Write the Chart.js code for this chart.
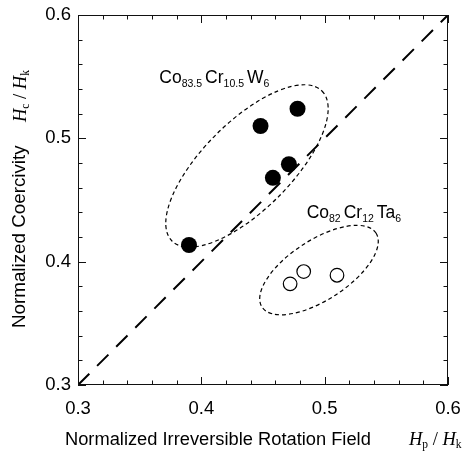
<!DOCTYPE html>
<html>
<head>
<meta charset="utf-8">
<script src="https://cdn.jsdelivr.net/npm/chart.js@4"></script>
<style>
  html, body { margin: 0; padding: 0; background: #fff; }
</style>
</head>
<body>
<canvas id="coercChart" width="463" height="452"></canvas>
<script>
// Co83.5Cr10.5W6 (filled dots)
const wX = [0.390, 0.448, 0.478, 0.471, 0.458];
const wY = [0.4135, 0.510, 0.524, 0.479, 0.468];
// Co82Cr12Ta6 (open circles)
const taX = [0.472, 0.483, 0.510];
const taY = [0.382, 0.392, 0.389];
// y = x reference line
const diagX = [0.3, 0.6];
const diagY = [0.3, 0.6];

const majorTicks = [0.3, 0.4, 0.5, 0.6];
const tickLabels = ["0.3", "0.4", "0.5", "0.6"];
const minorTicks = [0.32, 0.34, 0.36, 0.38, 0.42, 0.44, 0.46, 0.48, 0.52, 0.54, 0.56, 0.58];

// group outlines: centre x, centre y, half length, half width (data units), tilt in degrees
const ellipseW = [0.437, 0.4776, 0.086, 0.0357, 45];
const ellipseTa = [0.4954, 0.3932, 0.0551, 0.0243, 33];

const wLabel = [["Co", "83.5"], ["Cr", "10.5"], ["W", "6"]];
const taLabel = [["Co", "82"], ["Cr", "12"], ["Ta", "6"]];
const xTitle = "Normalized Irreversible Rotation Field";
const yTitle = "Normalized Coercivity";

const SANS = "'Liberation Sans', Arial, sans-serif";
const SERIF = "'Liberation Serif', 'Times New Roman', serif";

function drawChem(ctx, x, y, parts) {
  ctx.textAlign = "left";
  ctx.textBaseline = "alphabetic";
  parts.forEach(([el, n]) => {
    ctx.font = "17.5px " + SANS;
    ctx.fillText(el, x, y);
    x += ctx.measureText(el).width;
    ctx.font = "10.5px " + SANS;
    ctx.fillText(n, x, y + 4);
    x += ctx.measureText(n).width + 3;
  });
}

// H_a / H_b in italic serif with roman subscripts
function drawRatio(ctx, x, y, a, b) {
  ctx.textAlign = "left";
  ctx.textBaseline = "alphabetic";
  const put = (t, font, dy) => {
    ctx.font = font;
    ctx.fillText(t, x, y + dy);
    x += ctx.measureText(t).width;
  };
  put("H", "italic 18.5px " + SERIF, 0);
  put(a, "11.5px " + SERIF, 3);
  put(" / ", "18.5px " + SERIF, 0);
  put("H", "italic 18.5px " + SERIF, 0);
  put(b, "11.5px " + SERIF, 3);
}

const frame = {
  id: "frame",
  beforeDatasetsDraw(chart) {
    const ctx = chart.ctx;
    const xs = chart.scales.x, ys = chart.scales.y;
    ctx.save();
    ctx.strokeStyle = "#000";
    ctx.lineWidth = 1.2;
    ctx.setLineDash([4, 3]);
    [ellipseW, ellipseTa].forEach((e) => {
      const cx = xs.getPixelForValue(e[0]);
      const cy = ys.getPixelForValue(e[1]);
      const rx = xs.getPixelForValue(e[0] + e[2]) - cx;
      const ry = xs.getPixelForValue(e[0] + e[3]) - cx;
      ctx.beginPath();
      ctx.ellipse(cx, cy, rx, ry, -e[4] * Math.PI / 180, 0, 2 * Math.PI);
      ctx.stroke();
    });
    ctx.restore();
  },
  afterDraw(chart) {
    const ctx = chart.ctx;
    const { left, right, top, bottom } = chart.chartArea;
    const xs = chart.scales.x, ys = chart.scales.y;
    ctx.save();
    ctx.strokeStyle = "#111";
    ctx.lineWidth = 1;
    ctx.setLineDash([]);
    ctx.strokeRect(left + 0.5, top + 0.5, right - left - 1, bottom - top - 1);

    ctx.beginPath();
    const tick = (v, len) => {
      const px = Math.round(xs.getPixelForValue(v)) + 0.5;
      ctx.moveTo(px, bottom); ctx.lineTo(px, bottom - len);
      ctx.moveTo(px, top); ctx.lineTo(px, top + len);
      const py = Math.round(ys.getPixelForValue(v)) + 0.5;
      ctx.moveTo(left, py); ctx.lineTo(left + len, py);
      ctx.moveTo(right, py); ctx.lineTo(right - len, py);
    };
    majorTicks.forEach((v) => tick(v, 8));
    minorTicks.forEach((v) => tick(v, 4.5));
    ctx.stroke();

    ctx.fillStyle = "#000";
    drawChem(ctx, xs.getPixelForValue(0.3659), ys.getPixelForValue(0.5446), wLabel);
    drawChem(ctx, xs.getPixelForValue(0.4854), ys.getPixelForValue(0.4352), taLabel);

    ctx.font = "18.3px " + SANS;
    ctx.textAlign = "left";
    ctx.fillText(xTitle, 65, 445);
    drawRatio(ctx, 409, 445, "p", "k");

    ctx.save();
    ctx.translate(25, 236.7);
    ctx.rotate(-Math.PI / 2);
    ctx.font = "18.8px " + SANS;
    ctx.textAlign = "center";
    ctx.fillText(yTitle, 0, 0);
    ctx.restore();

    ctx.save();
    ctx.translate(26, 122);
    ctx.rotate(-Math.PI / 2);
    drawRatio(ctx, 0, 0, "c", "k");
    ctx.restore();

    ctx.restore();
  },
};

const tickFont = { family: SANS, size: 18.5 };

new Chart(document.getElementById("coercChart").getContext("2d"), {
  type: "scatter",
  data: {
    datasets: [
      {
        label: "Co83.5Cr10.5W6",
        data: wX.map((x, i) => ({ x, y: wY[i] })),
        pointRadius: 8,
        pointBackgroundColor: "#000",
        pointBorderWidth: 0,
      },
      {
        label: "Co82Cr12Ta6",
        data: taX.map((x, i) => ({ x, y: taY[i] })),
        pointRadius: 6.8,
        pointBackgroundColor: "#fff",
        pointBorderColor: "#000",
        pointBorderWidth: 1.2,
      },
      {
        label: "y = x",
        data: diagX.map((x, i) => ({ x, y: diagY[i] })),
        showLine: true,
        borderColor: "#000",
        borderWidth: 2,
        borderDash: [16, 11],
        pointRadius: 0,
        fill: false,
      },
    ],
  },
  options: {
    responsive: false,
    animation: false,
    events: [],
    layout: { padding: { left: 0, top: 15, right: 15, bottom: 0 } },
    plugins: { legend: { display: false }, tooltip: { enabled: false } },
    scales: {
      x: {
        type: "linear",
        min: 0.3,
        max: 0.6,
        grid: { display: false, drawTicks: false },
        border: { display: false },
        afterBuildTicks: (s) => { s.ticks = majorTicks.map((v) => ({ value: v })); },
        afterFit: (s) => { s.height = 67; s.paddingLeft = 0; s.paddingRight = 0; },
        ticks: {
          padding: 13,
          color: "#000",
          font: tickFont,
          maxRotation: 0,
          autoSkip: false,
          callback: (v, i) => tickLabels[i],
        },
      },
      y: {
        type: "linear",
        min: 0.3,
        max: 0.6,
        grid: { display: false, drawTicks: false },
        border: { display: false },
        afterBuildTicks: (s) => { s.ticks = majorTicks.map((v) => ({ value: v })); },
        afterFit: (s) => { s.width = 78; s.paddingTop = 0; s.paddingBottom = 0; },
        ticks: {
          padding: 7,
          color: "#000",
          font: tickFont,
          autoSkip: false,
          callback: (v, i) => tickLabels[i],
        },
      },
    },
  },
  plugins: [frame],
});
</script>
</body>
</html>
